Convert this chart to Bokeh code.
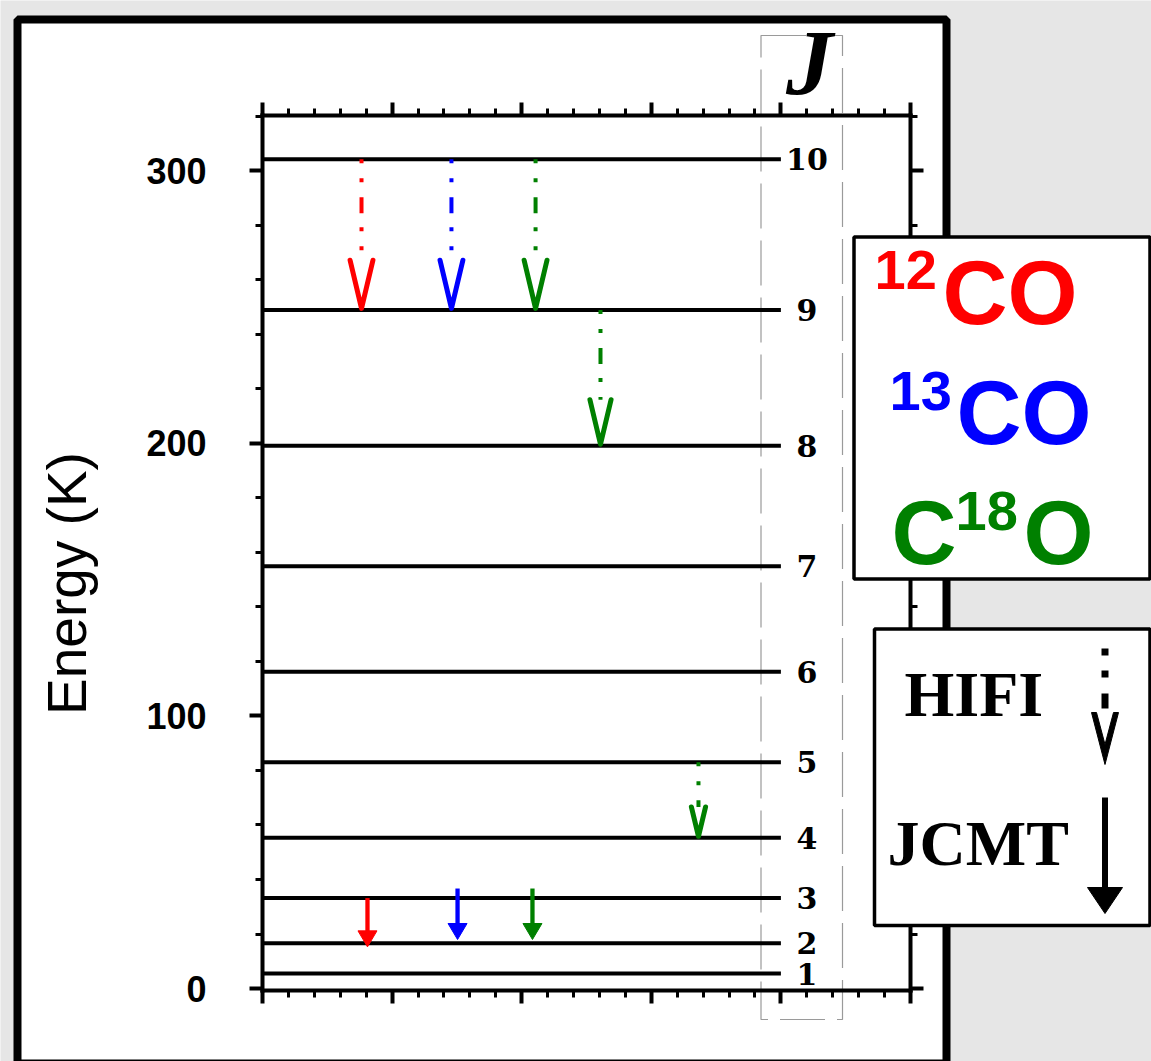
import math
from bokeh.plotting import figure
from bokeh.models import (Range1d, LinearAxis, FixedTicker, Label, BoxAnnotation,
                          PolyAnnotation, ColumnDataSource)
from bokeh.core.properties import value
from bokeh.embed import file_html
from bokeh.resources import INLINE

# ---------------- data ----------------
J_LEVELS = [1, 2, 3, 4, 5, 6, 7, 8, 9, 10]
ENERGY_K = [5.5, 16.6, 33.2, 55.3, 83.0, 116.2, 154.9, 199.1, 248.9, 304.2]
Y_TICKS = [0, 100, 200, 300]
Y_TICK_LABELS = ["0", "100", "200", "300"]
X_TICKS = [0, 1, 2, 3, 4, 5]

SPECIES = ["12CO", "13CO", "C18O"]
SPECIES_COLORS = ["#ff0000", "#0000ff", "#008000"]

# HIFI transitions (dotted arrows, open heads)
HIFI_SPECIES = ["12CO", "13CO", "C18O", "C18O", "C18O"]
HIFI_X = [0.764, 1.458, 2.107, 2.608, 3.364]
HIFI_J_UP = [10, 10, 10, 9, 5]
HIFI_J_LOW = [9, 9, 9, 8, 4]

# JCMT transitions (solid arrows, filled heads)
JCMT_SPECIES = ["12CO", "13CO", "C18O"]
JCMT_X = [0.810, 1.505, 2.083]
JCMT_E_START = [33.2, 36.7, 36.7]
JCMT_E_END = [15.3, 18.0, 18.0]

# ---------------- layout ----------------
W, H = 1151, 1061
# pixel box of the plotting area (axes) inside the canvas
FL, FR, FT, FB = 262, 910, 115, 990
PX = (0.0, 5.0)          # x extent of the axes box
PY = (-0.7, 320.2)       # y extent of the axes box (K)
KX = (FR - FL) / (PX[1] - PX[0])
KY = (FB - FT) / (PY[1] - PY[0])
LEVEL_X_START, LEVEL_X_END = 0.0, 4.0
BASE_SHIFT = 0.37        # label anchor sits this many em above the glyph baseline


def xd(px):
    return PX[0] + (px - FL) / KX


def yd(py):
    return PY[0] + (FB - py) / KY


color_of = dict(zip(SPECIES, SPECIES_COLORS))
energy_of = dict(zip(J_LEVELS, ENERGY_K))

p = figure(width=W, height=H, x_range=Range1d(xd(0), xd(W)), y_range=Range1d(yd(H), yd(0)),
           output_backend="svg", toolbar_location=None,
           x_axis_location=None, y_axis_location=None,
           min_border=0, min_border_left=0, min_border_right=0,
           min_border_top=0, min_border_bottom=0,
           border_fill_color="#e6e6e6", background_fill_color="#e6e6e6",
           outline_line_color=None)
p.grid.visible = False

# white panel with thick black frame
p.add_layout(BoxAnnotation(left=xd(17), right=xd(946), top=yd(19), bottom=yd(1063),
                           fill_color="white", fill_alpha=1.0,
                           line_color="black", line_alpha=1.0, line_width=8,
                           level="underlay"))
# faint dashed box around the J column
p.add_layout(BoxAnnotation(left=xd(760.5), right=xd(842), top=yd(35), bottom=yd(1019),
                           fill_color=None, line_color="#9a9a9a", line_alpha=1.0,
                           line_width=1.2, line_dash="45 12", level="underlay"))


def style_axis(ax):
    ax.axis_line_width = 4
    ax.axis_line_color = "black"
    ax.axis_line_cap = "square"
    ax.major_tick_line_width = 4
    ax.minor_tick_line_width = 3
    ax.major_tick_line_color = "black"
    ax.minor_tick_line_color = "black"
    ax.major_tick_out = 13
    ax.major_tick_in = 0
    ax.minor_tick_out = 7
    ax.minor_tick_in = 0


y_minor = list(range(0, 321, 20))
x_minor = [i / 5 for i in range(0, 26)]

yl = LinearAxis(ticker=FixedTicker(ticks=Y_TICKS, minor_ticks=y_minor),
                major_label_overrides={t: s for t, s in zip(Y_TICKS, Y_TICK_LABELS)},
                bounds=PY, fixed_location=PX[0])
style_axis(yl)
yl.major_label_text_font = "Liberation Sans"
yl.major_label_text_font_style = "bold"
yl.major_label_text_font_size = "36px"
yl.major_label_text_color = "black"
yl.major_label_standoff = 43
p.add_layout(yl, "left")

yr = LinearAxis(ticker=FixedTicker(ticks=Y_TICKS, minor_ticks=y_minor),
                major_label_overrides={t: "" for t in Y_TICKS},
                bounds=PY, fixed_location=PX[1])
style_axis(yr)
p.add_layout(yr, "right")

for loc, fx in (("below", PY[0]), ("above", PY[1])):
    ax = LinearAxis(ticker=FixedTicker(ticks=X_TICKS, minor_ticks=x_minor),
                    major_label_overrides={t: "" for t in X_TICKS},
                    bounds=PX, fixed_location=fx)
    style_axis(ax)
    p.add_layout(ax, loc)

# energy levels
lv = ColumnDataSource(dict(x0=[LEVEL_X_START] * len(J_LEVELS),
                           x1=[LEVEL_X_END] * len(J_LEVELS),
                           y=ENERGY_K, label=[str(j) for j in J_LEVELS]))
p.segment(x0="x0", y0="y", x1="x1", y1="y", source=lv, line_width=4, line_color="black")
p.text(x="x1", y="y", text="label", source=lv, x_offset=26,
       text_align="center", text_baseline="middle",
       text_font=value("DejaVu Serif"), text_font_style="bold",
       text_font_size="30px", text_color="black")

# HIFI arrows
sh = dict(x0=[], y0=[], x1=[], y1=[], c=[])
hd = dict(xs=[], ys=[], c=[])
for sp, x, ju, jl in zip(HIFI_SPECIES, HIFI_X, HIFI_J_UP, HIFI_J_LOW):
    up, lo = energy_of[ju], energy_of[jl]
    len_px = (up - lo) * KY
    hl_px = min(50.0, 12 + 0.25 * len_px)
    hw_px = 0.23 * hl_px
    c = color_of[sp]
    sh["x0"].append(x); sh["x1"].append(x)
    sh["y0"].append(up); sh["y1"].append(lo + hl_px / KY)
    sh["c"].append(c)
    tip = lo + 1.5 / KY
    hd["xs"].append([x - hw_px / KX, x, x + hw_px / KX])
    hd["ys"].append([lo + hl_px / KY, tip, lo + hl_px / KY])
    hd["c"].append(c)
p.segment(x0="x0", y0="y0", x1="x1", y1="y1", source=ColumnDataSource(sh),
          line_color="c", line_width=4, line_dash="4 15 4 15 16 14")
p.multi_line(xs="xs", ys="ys", source=ColumnDataSource(hd), line_color="c",
             line_width=5, line_join="round", line_cap="round")

# JCMT arrows
js = dict(x0=[], y0=[], x1=[], y1=[], c=[])
jt = dict(xs=[], ys=[], c=[])
for sp, x, e0, e1 in zip(JCMT_SPECIES, JCMT_X, JCMT_E_START, JCMT_E_END):
    c = color_of[sp]
    hl = 16 / KY
    hw = 9.5 / KX
    js["x0"].append(x); js["x1"].append(x)
    js["y0"].append(e0); js["y1"].append(e1 + 0.8 * hl)
    js["c"].append(c)
    jt["xs"].append([x - hw, x + hw, x])
    jt["ys"].append([e1 + hl, e1 + hl, e1])
    jt["c"].append(c)
p.segment(x0="x0", y0="y0", x1="x1", y1="y1", source=ColumnDataSource(js),
          line_color="c", line_width=4.3)
p.patches(xs="xs", ys="ys", source=ColumnDataSource(jt), fill_color="c", line_color="c",
          line_width=1)


def lab(px, py_base, text, size, color, font="Liberation Sans", style="bold",
        align="left", angle=0.0, level="overlay"):
    """Place a label so that its glyph baseline lands on pixel row py_base."""
    shift = BASE_SHIFT * size
    if angle:
        x_px, y_px = px - shift, py_base
    else:
        x_px, y_px = px, py_base - shift
    p.add_layout(Label(x=xd(x_px), y=yd(y_px), text=text, text_align=align,
                       text_baseline="alphabetic", text_font=font,
                       text_font_style=style, text_font_size=f"{size}px",
                       text_color=color, angle=angle, level=level))


# axis title (rotated; baseline column at x=87)
lab(87, 583, "Energy (K)", 55, "black", style="normal", align="center",
    angle=math.pi / 2, level="annotation")
# J header
lab(809, 96, "J", 94, "black", font="Liberation Serif", style="bold italic",
    align="center", level="annotation")

# species legend box
p.add_layout(BoxAnnotation(left=xd(853.5), right=xd(1149.5), top=yd(236.5), bottom=yd(578.5),
                           fill_color="white", fill_alpha=1.0, line_color="black",
                           line_alpha=1.0, line_width=3.5, level="overlay"))

lab(874, 290, "12", 56, SPECIES_COLORS[0])
lab(942, 326, "CO", 90, SPECIES_COLORS[0])
lab(889, 411, "13", 56, SPECIES_COLORS[1])
lab(956, 446, "CO", 90, SPECIES_COLORS[1])
lab(891, 566, "C", 90, SPECIES_COLORS[2])
lab(955, 531, "18", 56, SPECIES_COLORS[2])
lab(1023, 566, "O", 90, SPECIES_COLORS[2])

# instrument legend box
p.add_layout(BoxAnnotation(left=xd(874), right=xd(1149.5), top=yd(628.5), bottom=yd(925),
                           fill_color="white", fill_alpha=1.0, line_color="black",
                           line_alpha=1.0, line_width=3.5, level="overlay"))
lab(904, 718, "HIFI", 64, "black", font="Liberation Serif")
lab(887, 867, "JCMT", 64, "black", font="Liberation Serif")

LX = 1104.5
for a, b in [(0, 7), (22, 29), (45, 60)]:
    p.add_layout(BoxAnnotation(left=xd(LX - 3.5), right=xd(LX + 3.5),
                               top=yd(648 + a), bottom=yd(648 + b),
                               fill_color="black", fill_alpha=1.0, line_color=None,
                               level="overlay"))
chev_x = [LX - 13.5, LX, LX + 13.5, LX + 8.5, LX, LX - 8.5]
chev_y = [712, 764, 712, 712, 744, 712]
p.add_layout(PolyAnnotation(xs=[xd(v) for v in chev_x], ys=[yd(v) for v in chev_y],
                            fill_color="black", fill_alpha=1.0, line_color="black",
                            line_alpha=1.0, line_width=1, level="overlay"))
p.add_layout(BoxAnnotation(left=xd(LX - 3), right=xd(LX + 3), top=yd(797), bottom=yd(890),
                           fill_color="black", fill_alpha=1.0, line_color=None,
                           level="overlay"))
tri_x = [LX - 17.5, LX + 17.5, LX]
tri_y = [887, 887, 913]
p.add_layout(PolyAnnotation(xs=[xd(v) for v in tri_x], ys=[yd(v) for v in tri_y],
                            fill_color="black", fill_alpha=1.0, line_color="black",
                            line_alpha=1.0, line_width=1, level="overlay"))

open("out.html", "w").write(file_html(p, INLINE))
